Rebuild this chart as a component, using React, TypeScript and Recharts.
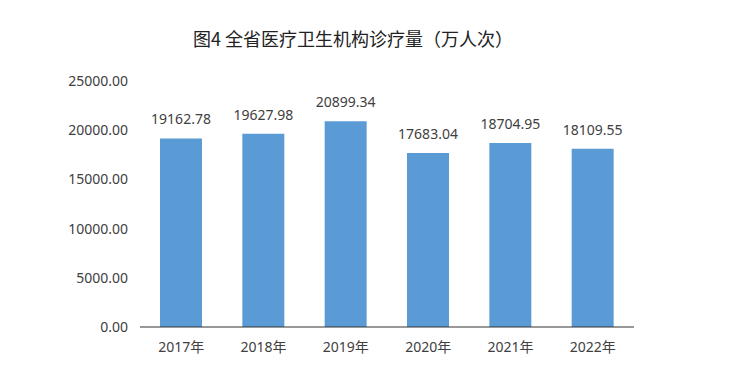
import React from "react";
import { BarChart, Bar, XAxis, YAxis, LabelList } from "recharts";

const years = ["2017年", "2018年", "2019年", "2020年", "2021年", "2022年"];
const visits = [19162.78, 19627.98, 20899.34, 17683.04, 18704.95, 18109.55];
const yTicks = [0, 5000, 10000, 15000, 20000, 25000];
const boundaryTicks = [0, 1, 2, 3, 4, 5, 6];
const title = "图4 全省医疗卫生机构诊疗量（万人次）";

const data = years.map((y, i) => ({ year: y, value: visits[i] }));

const font = "'Noto Sans', 'Noto Sans CJK SC', sans-serif";
const textColor = "#404040";

export default function App() {
  return (
    <div style={{ position: "relative", width: 724, height: 384, fontFamily: font }}>
      <div
        style={{
          position: "absolute",
          left: 0,
          width: 690,
          top: 17,
          textAlign: "center",
          fontSize: 18,
          color: "#222",
          fontFamily: "'Noto Sans CJK SC', sans-serif",
          lineHeight: "26px",
        }}
      >
        {title}
      </div>
      <BarChart
        width={724}
        height={384}
        data={data}
        margin={{ top: 73, right: 98, left: 0, bottom: 34 }}
      >
        <XAxis
          xAxisId={0}
          type="number"
          domain={[0, 6]}
          ticks={boundaryTicks}
          tick={false}
          height={1}
          tickSize={5}
          axisLine={{ stroke: "#333", strokeWidth: 1 }}
          tickLine={{ stroke: "#333" }}
          allowDataOverflow
        />
        <XAxis
          xAxisId="year"
          dataKey="year"
          height={30}
          axisLine={false}
          tickLine={false}
          tickSize={6}
          tickMargin={8}
          tick={{ fill: textColor, fontSize: 14, fontFamily: font }}
        />
        <YAxis
          width={132}
          domain={[0, 25000]}
          ticks={yTicks}
          axisLine={false}
          tickLine={false}
          tickSize={0}
          tickMargin={12}
          tickFormatter={(v: number) => v.toFixed(2)}
          tick={{ fill: textColor, fontSize: 14, fontFamily: font }}
        />
        <Bar xAxisId="year" dataKey="value" fill="#5B9BD5" barSize={42} isAnimationActive={false}>
          <LabelList
            dataKey="value"
            position="top"
            offset={14}
            formatter={(v: number) => v.toFixed(2)}
            style={{ fill: textColor, fontSize: 14, fontFamily: font }}
          />
        </Bar>
      </BarChart>
    </div>
  );
}
